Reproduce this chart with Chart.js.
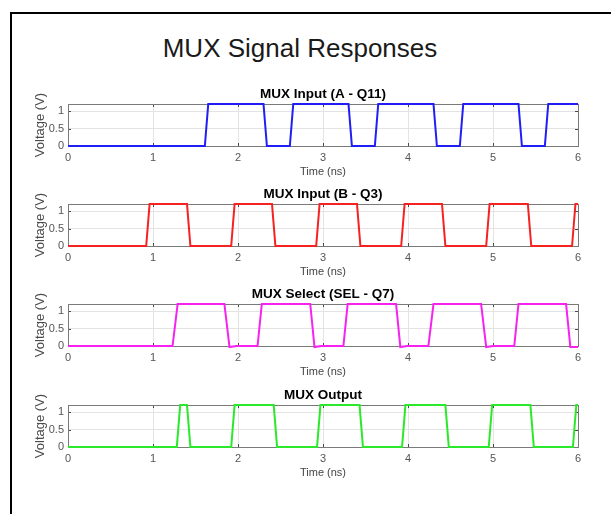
<!DOCTYPE html>
<html>
<head>
<meta charset="utf-8">
<script src="https://cdn.jsdelivr.net/npm/chart.js@4.4.1/dist/chart.umd.min.js"></script>
<style>
  html, body { margin: 0; padding: 0; background: #fff; }
  body { width: 611px; height: 514px; position: relative; overflow: hidden; font-family: "Liberation Sans", Arial, sans-serif; }
  #frame { position: absolute; left: 10px; top: 12px; width: 640px; height: 560px; border-left: 2px solid #000; border-top: 2px solid #000; }
  #mainTitle { position: absolute; left: 0; width: 600px; top: 33px; text-align: center; font-size: 26px; color: #1a1a1a; line-height: 30px; }
  .panel { position: absolute; left: 0; width: 611px; height: 98px; }
</style>
</head>
<body>
<div id="frame"></div>
<div id="mainTitle">MUX Signal Responses</div>
<div class="panel" style="top:82px"><canvas id="c1"></canvas></div>
<div class="panel" style="top:182px"><canvas id="c2"></canvas></div>
<div class="panel" style="top:282px"><canvas id="c3"></canvas></div>
<div class="panel" style="top:383px"><canvas id="c4"></canvas></div>
<script>
// Time axis ticks (ns) and voltage ticks (V)
const timeTicks = [0, 1, 2, 3, 4, 5, 6];
const voltTicks = [0, 0.5, 1];

// MUX input A (Q11)
const timeA = [0, 1.61, 1.65, 2.30, 2.34, 2.61, 2.65, 3.30, 3.34, 3.61, 3.65, 4.30, 4.34, 4.61, 4.65, 5.30, 5.34, 5.61, 5.65, 6.0];
const voltA = [0, 0, 1.2, 1.2, 0, 0, 1.2, 1.2, 0, 0, 1.2, 1.2, 0, 0, 1.2, 1.2, 0, 0, 1.2, 1.2];

// MUX input B (Q3)
const timeB = [0, 0.92, 0.96, 1.40, 1.44, 1.92, 1.96, 2.40, 2.44, 2.92, 2.96, 3.40, 3.44, 3.92, 3.96, 4.40, 4.44, 4.92, 4.96, 5.41, 5.45, 5.93, 5.97, 6.0];
const voltB = [0, 0, 1.2, 1.2, 0, 0, 1.2, 1.2, 0, 0, 1.2, 1.2, 0, 0, 1.2, 1.2, 0, 0, 1.2, 1.2, 0, 0, 1.2, 1.2];

// MUX select (SEL, Q7)
const timeSel = [0, 1.23, 1.29, 1.84, 1.90, 1.98, 2.23, 2.28, 2.85, 2.90, 2.98, 3.24, 3.29, 3.86, 3.91, 3.99, 4.24, 4.30, 4.86, 4.92, 5.00, 5.25, 5.30, 5.86, 5.91, 6.0];
const voltSel = [0, 0, 1.2, 1.2, -0.03, 0, 0, 1.2, 1.2, -0.03, 0, 0, 1.2, 1.2, -0.03, 0, 0, 1.2, 1.2, -0.03, 0, 0, 1.2, 1.2, -0.03, -0.03];

// MUX output
const timeOut = [0, 1.28, 1.32, 1.40, 1.44, 1.92, 1.96, 2.42, 2.46, 2.93, 2.97, 3.43, 3.47, 3.93, 3.97, 4.44, 4.48, 4.95, 4.99, 5.44, 5.48, 5.94, 5.98, 6.0];
const voltOut = [0, 0, 1.2, 1.2, 0, 0, 1.2, 1.2, 0, 0, 1.2, 1.2, 0, 0, 1.2, 1.2, 0, 0, 1.2, 1.2, 0, 0, 1.2, 1.2];

const panels = [
  { id: 'c1', title: 'MUX Input (A - Q11)', t: timeA, v: voltA, color: '#1f1ff5' },
  { id: 'c2', title: 'MUX Input (B - Q3)', t: timeB, v: voltB, color: '#f52222' },
  { id: 'c3', title: 'MUX Select (SEL - Q7)', t: timeSel, v: voltSel, color: '#f522f0' },
  { id: 'c4', title: 'MUX Output', t: timeOut, v: voltOut, color: '#2ae82a' }
];

const FONT = '"Liberation Sans", Arial, sans-serif';

// Axes box with inward tick marks (under the trace), panel title and rotated y-axis label
const axesBox = {
  id: 'axesBox',
  beforeDatasetsDraw(chart) {
    const { ctx, chartArea: a, scales } = chart;
    ctx.save();
    ctx.strokeStyle = '#4a4a4a';
    ctx.lineWidth = 1;
    const tl = 3;
    ctx.beginPath();
    scales.x.ticks.forEach(tk => {
      const px = Math.round(scales.x.getPixelForValue(tk.value)) + 0.5;
      ctx.moveTo(px, a.bottom); ctx.lineTo(px, a.bottom - tl);
      ctx.moveTo(px, a.top); ctx.lineTo(px, a.top + tl);
    });
    scales.y.ticks.forEach(tk => {
      const py = Math.round(scales.y.getPixelForValue(tk.value)) + 0.5;
      ctx.moveTo(a.left, py); ctx.lineTo(a.left + tl, py);
      ctx.moveTo(a.right, py); ctx.lineTo(a.right - tl, py);
    });
    ctx.stroke();
    ctx.strokeStyle = '#7a7a7a';
    ctx.strokeRect(Math.round(a.left) + 0.5, Math.round(a.top) + 0.5, Math.round(a.right - a.left), Math.round(a.bottom - a.top));
    ctx.restore();
  },
  afterDraw(chart) {
    const { ctx, chartArea: a } = chart;
    const title = chart.options.plugins.axesBox.title;
    ctx.save();
    ctx.fillStyle = '#000';
    ctx.font = 'bold 13.5px ' + FONT;
    ctx.textAlign = 'center';
    ctx.textBaseline = 'middle';
    ctx.fillText(title, (a.left + a.right) / 2, a.top - 10);
    ctx.translate(40, (a.top + a.bottom) / 2);
    ctx.rotate(-Math.PI / 2);
    ctx.fillStyle = '#4a4a4a';
    ctx.font = '13px ' + FONT;
    ctx.fillText('Voltage (V)', 0, 0);
    ctx.restore();
  }
};

panels.forEach(p => {
  new Chart(document.getElementById(p.id), {
    type: 'line',
    data: {
      datasets: [{
        data: p.t.map((t, i) => ({ x: t, y: p.v[i] })),
        borderColor: p.color,
        borderWidth: 2,
        pointRadius: 0,
        tension: 0,
        fill: false,
        clip: 4
      }]
    },
    options: {
      responsive: true,
      maintainAspectRatio: false,
      animation: false,
      layout: { padding: { left: 33, right: 33, top: 22, bottom: 0 } },
      plugins: {
        legend: { display: false },
        tooltip: { enabled: false },
        title: { display: false },
        axesBox: { title: p.title }
      },
      scales: {
        x: {
          type: 'linear',
          min: timeTicks[0],
          max: timeTicks[timeTicks.length - 1],
          afterFit(s) { s.height = 34; },
          afterBuildTicks(s) { s.ticks = timeTicks.map(v => ({ value: v })); },
          grid: { color: '#e3e3e3', drawTicks: false },
          border: { display: false },
          ticks: { color: '#555', font: { family: FONT, size: 11 }, padding: 5, maxRotation: 0 },
          title: { display: true, text: 'Time (ns)', color: '#444', font: { family: FONT, size: 11 }, padding: { top: 0, bottom: 1 } }
        },
        y: {
          min: 0,
          max: 1.2,
          afterFit(s) { s.width = 35; },
          afterBuildTicks(s) { s.ticks = voltTicks.map(v => ({ value: v })); },
          grid: { color: '#e3e3e3', drawTicks: false },
          border: { display: false },
          ticks: { color: '#555', font: { family: FONT, size: 11 }, padding: 4, callback: v => String(v) }
        }
      }
    },
    plugins: [axesBox]
  });
});
</script>
</body>
</html>
